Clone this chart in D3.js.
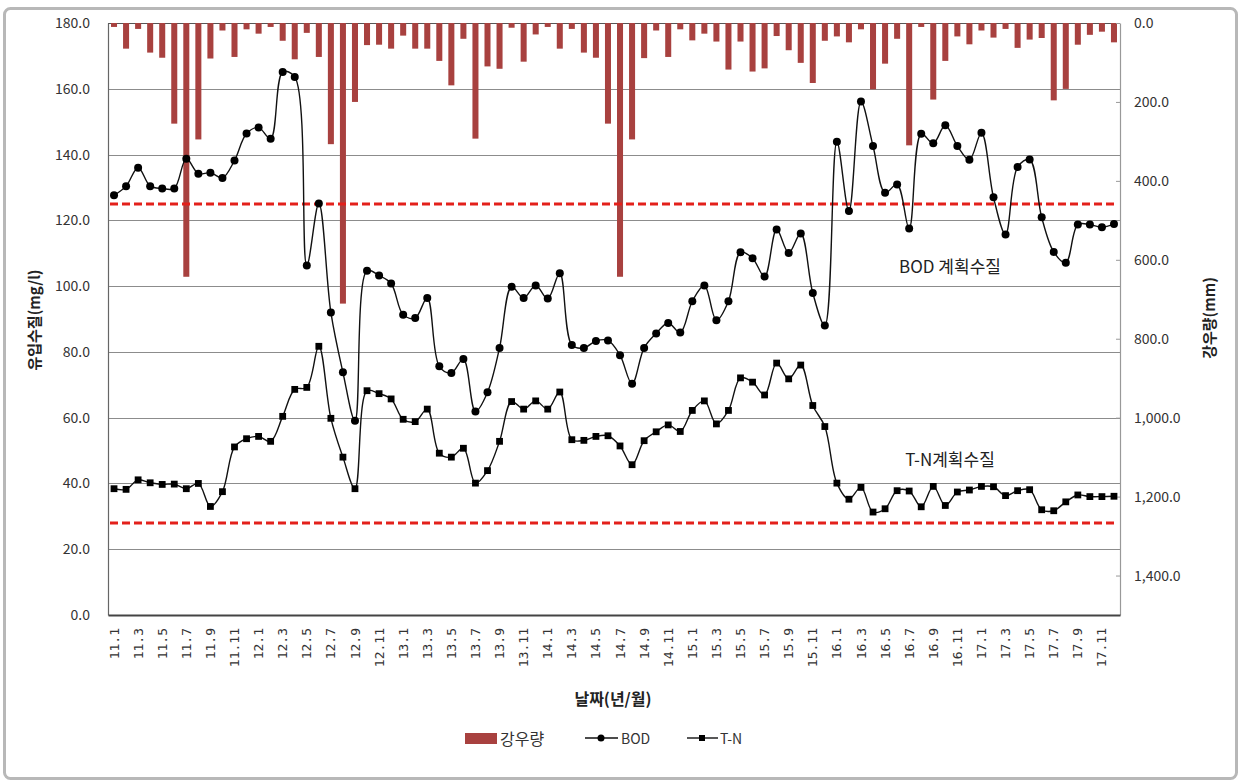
<!DOCTYPE html>
<html><head><meta charset="utf-8">
<script src="https://cdn.jsdelivr.net/npm/d3@7"></script>
<style>
html,body{margin:0;padding:0;background:#fff;}
svg{display:block;}
</style>
</head><body>
<svg id="chart" width="1241" height="782"></svg>
<script>
const categories = [
"11.1","11.2","11.3","11.4","11.5","11.6","11.7","11.8","11.9","11.10","11.11","11.12",
"12.1","12.2","12.3","12.4","12.5","12.6","12.7","12.8","12.9","12.10","12.11","12.12",
"13.1","13.2","13.3","13.4","13.5","13.6","13.7","13.8","13.9","13.10","13.11","13.12",
"14.1","14.2","14.3","14.4","14.5","14.6","14.7","14.8","14.9","14.10","14.11","14.12",
"15.1","15.2","15.3","15.4","15.5","15.6","15.7","15.8","15.9","15.10","15.11","15.12",
"16.1","16.2","16.3","16.4","16.5","16.6","16.7","16.8","16.9","16.10","16.11","16.12",
"17.1","17.2","17.3","17.4","17.5","17.6","17.7","17.8","17.9","17.10","17.11","17.12"];

const tickLabels = ["11.1","11.3","11.5","11.7","11.9","11.11","12.1","12.3","12.5","12.7","12.9","12.11",
"13.1","13.3","13.5","13.7","13.9","13.11","14.1","14.3","14.5","14.7","14.9","14.11",
"15.1","15.3","15.5","15.7","15.9","15.11","16.1","16.3","16.5","16.7","16.9","16.11",
"17.1","17.3","17.5","17.7","17.9","17.11"];

const bod = [127.6,130.4,136.0,130.4,129.7,129.7,138.7,134.2,134.5,132.9,
138.2,146.4,148.2,144.8,165.1,163.6,106.3,125.1,92.0,73.8,
59.1,104.7,103.2,100.8,91.3,90.3,96.4,75.6,73.6,77.8,
61.9,67.7,81.2,99.8,96.4,100.2,96.2,103.9,82.1,81.2,
83.3,83.5,79.0,70.3,81.2,85.6,88.8,85.9,95.4,100.2,
89.6,95.4,110.3,108.5,102.9,117.2,110.1,116.0,97.9,88.0,
143.9,122.8,156.1,142.6,128.4,130.9,117.5,146.3,143.4,148.9,
142.6,138.4,146.6,127.0,115.7,136.2,138.5,120.9,110.4,107.1,
118.7,118.7,117.9,118.9];

const tn = [38.4,38.2,41.1,40.2,39.7,39.8,38.4,40.0,33.0,37.5,
51.1,53.6,54.3,52.8,60.4,68.6,69.2,81.7,59.8,48.0,
38.4,68.2,67.3,65.7,59.5,58.8,62.6,49.2,48.0,50.7,
40.1,43.9,52.8,64.9,62.6,65.1,62.6,67.8,53.3,53.1,
54.3,54.5,51.4,45.7,53.0,55.7,57.8,55.8,62.2,65.1,
58.1,62.2,72.1,70.8,66.9,76.6,71.8,76.0,63.7,57.3,
40.1,35.2,38.8,31.3,32.3,37.8,37.7,32.9,39.1,33.3,
37.4,38.0,39.1,39.0,36.3,37.8,38.1,32.0,31.7,34.4,
36.5,36.0,36.0,36.1];

const rain = [10,65,15,75,88,255,643,295,90,19,
86,16,27,10,45,92,25,86,307,711,
200,56,55,65,32,65,65,96,158,40,
293,110,116,12,98,29,10,65,15,75,
88,255,643,295,89,19,86,16,44,27,
47,118,47,123,115,33,69,101,152,45,
34,49,16,168,103,40,310,10,194,96,
34,54,19,37,15,63,42,38,196,167,
55,30,22,49];

const leftTicks = [0,20,40,60,80,100,120,140,160,180];
const rightTicks = [0,200,400,600,800,1000,1200,1400];
const planLines = [{name:"BOD 계획수질", value:125}, {name:"T-N계획수질", value:28}];

const FONT = "'Noto Sans CJK KR','Noto Sans',sans-serif";
const barColor = "#a8413f";
const svg = d3.select("#chart");

// outer frame
svg.append("rect").attr("x",4.5).attr("y",8.5).attr("width",1232).attr("height",770)
  .attr("rx",6).attr("fill","#fff").attr("stroke","#b8b8b8").attr("stroke-width",3);

const L=108, R=1120, T=23, B=615;
const x = d3.scaleBand().domain(categories).range([L,R]).paddingInner(0.5).paddingOuter(0.25);
const cx = d => x(d) + x.bandwidth()/2;
const yL = d3.scaleLinear().domain([0,180]).range([B,T]);
const yR = d3.scaleLinear().domain([0,1500]).range([T,B]);

// gridlines
svg.append("g").selectAll("line").data(leftTicks.filter(v=>v>0)).join("line")
  .attr("x1",L).attr("x2",R).attr("y1",d=>Math.round(yL(d))+0.5).attr("y2",d=>Math.round(yL(d))+0.5)
  .attr("stroke",d=>d===180?"#555":"#8c8c8c").attr("stroke-width",1.2);

// bars
svg.append("g").selectAll("rect").data(categories).join("rect")
  .attr("x",d=>x(d)).attr("width",x.bandwidth())
  .attr("y",yR(0)).attr("height",(d,i)=>yR(rain[i])-yR(0))
  .attr("fill",barColor);

// axes
const gL = svg.append("g").attr("transform",`translate(${L},0)`)
  .call(d3.axisLeft(yL).tickValues(leftTicks).tickFormat(d3.format(".1f")).tickSize(0).tickPadding(18));
gL.select(".domain").attr("stroke","#666").attr("stroke-width",1.2);
gL.selectAll("text").attr("font-family",FONT).attr("font-size",14).attr("fill","#333");

const gR = svg.append("g").attr("transform",`translate(${R},0)`)
  .call(d3.axisRight(yR).tickValues(rightTicks).tickFormat(d3.format(",.1f")).tickSizeInner(-4).tickSizeOuter(0).tickPadding(14));
gR.select(".domain").attr("stroke","#999").attr("stroke-width",1.2);
gR.selectAll("line").attr("stroke","#999");
gR.selectAll("text").attr("font-family",FONT).attr("font-size",14).attr("fill","#333").attr("x",14);

const gB = svg.append("g").attr("transform",`translate(0,${B})`)
  .call(d3.axisBottom(x).tickValues(tickLabels).tickSize(0));
gB.select(".domain").attr("stroke","#444").attr("stroke-width",2);
gB.selectAll("text").attr("font-family","'DejaVu Sans Mono',monospace").attr("font-size",13).attr("fill","#333")
  .attr("transform","rotate(-90)").attr("text-anchor","end").attr("x",-13).attr("y",0).attr("dy","0.35em");

// plan lines
svg.append("g").selectAll("line").data(planLines).join("line")
  .attr("x1",L+2).attr("x2",R-2).attr("y1",d=>yL(d.value)).attr("y2",d=>yL(d.value))
  .attr("stroke","#e3201b").attr("stroke-width",3).attr("stroke-dasharray","8,4");

// series lines
const line = arr => d3.line().x((d,i)=>cx(categories[i])).y(d=>yL(d)).curve(d3.curveCatmullRom.alpha(0.5))(arr);
svg.append("path").attr("d",line(bod)).attr("fill","none").attr("stroke","#111").attr("stroke-width",1.4);
svg.append("path").attr("d",line(tn)).attr("fill","none").attr("stroke","#111").attr("stroke-width",1.4);

svg.append("g").selectAll("circle").data(bod).join("circle")
  .attr("cx",(d,i)=>cx(categories[i])).attr("cy",d=>yL(d)).attr("r",4).attr("fill","#000");
svg.append("g").selectAll("rect").data(tn).join("rect")
  .attr("x",(d,i)=>cx(categories[i])-3.4).attr("y",d=>yL(d)-3.4).attr("width",6.8).attr("height",6.8).attr("fill","#000");

// annotations
svg.append("text").attr("x",950).attr("y",273).attr("text-anchor","middle")
  .attr("font-family",FONT).attr("font-size",17).attr("fill","#222").text(planLines[0].name);
svg.append("text").attr("x",950).attr("y",466).attr("text-anchor","middle")
  .attr("font-family",FONT).attr("font-size",17).attr("fill","#222").text(planLines[1].name);

// axis titles
svg.append("text").attr("transform","translate(40,320) rotate(-90)").attr("text-anchor","middle")
  .attr("font-family",FONT).attr("font-size",15).attr("font-weight","bold").attr("fill","#222").text("유입수질(mg/l)");
svg.append("text").attr("transform","translate(1215,318) rotate(-90)").attr("text-anchor","middle")
  .attr("font-family",FONT).attr("font-size",15).attr("font-weight","bold").attr("fill","#222").text("강우량(mm)");
svg.append("text").attr("x",613).attr("y",705).attr("text-anchor","middle")
  .attr("font-family",FONT).attr("font-size",16).attr("font-weight","bold").attr("fill","#222").text("날짜(년/월)");

// legend
const lg = svg.append("g");
lg.append("rect").attr("x",465).attr("y",733).attr("width",32).attr("height",11).attr("fill",barColor);
lg.append("text").attr("x",500).attr("y",745).attr("font-family",FONT).attr("font-size",16).attr("fill","#333").text("강우량");
lg.append("line").attr("x1",585).attr("x2",618).attr("y1",738).attr("y2",738).attr("stroke","#111").attr("stroke-width",1.4);
lg.append("circle").attr("cx",601).attr("cy",738).attr("r",3.5).attr("fill","#000");
lg.append("text").attr("x",621).attr("y",744).attr("font-family",FONT).attr("font-size",14).attr("fill","#333").text("BOD");
lg.append("line").attr("x1",687).attr("x2",718).attr("y1",738).attr("y2",738).attr("stroke","#111").attr("stroke-width",1.4);
lg.append("rect").attr("x",699).attr("y",735).attr("width",6).attr("height",6).attr("fill","#000");
lg.append("text").attr("x",720).attr("y",744).attr("font-family",FONT).attr("font-size",14).attr("fill","#333").text("T-N");
</script>
</body></html>
